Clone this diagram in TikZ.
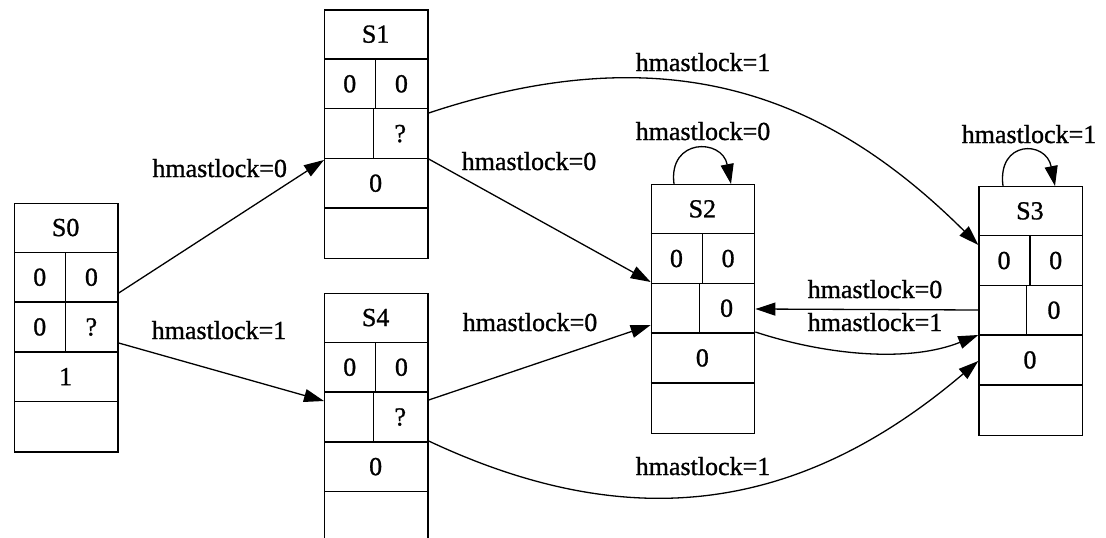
\documentclass[tikz,border=0pt]{standalone}
\usepackage{fontspec}
\setmainfont{Liberation Serif}
\newfontfamily\labelfont{Liberation Serif}[FakeBold=1]
\usetikzlibrary{arrows.meta,calc}

% record-shaped state: #1 name, #2 top-left corner "x,y", #3 offset of the row-3 divider,
% #4 title, #5/#6 row 2 cells, #7/#8 row 3 cells, #9 row 4
\newcommand{\staterec}[9]{%
  \begin{scope}[shift={(#2)}]
    \node[recbox, anchor=north west] (#1) at (0,0) {};
    \foreach \r in {49.7,99.4,149.1,198.8}
      \draw[cell] (0,\r) -- (103.3,\r);
    \draw[cell] (51.5,49.7) -- (51.5,99.4);
    \draw[cell] (#3,99.4) -- (#3,149.1);
    \node[txt] (#1t) at (51.65,33.35) {#4};
    \node[txt] (#1a) at (25.75,83.05) {#5};
    \node[txt] (#1b) at (77.4,83.05) {#6};
    \node[txt] (#1c) at ({#3/2},132.75) {#7};
    \node[txt] (#1d) at ({(#3+103.3)/2},132.75) {#8};
    \node[txt] (#1e) at (51.65,182.45) {#9};
  \end{scope}}

\begin{document}
\begin{tikzpicture}[x=1pt,y=-1pt,
  every node/.style={font=\labelfont\fontsize{26}{30}\selectfont},
  recbox/.style={draw, rectangle, line width=1.4pt, minimum width=103.3pt,
    minimum height=248.5pt, inner sep=0pt},
  cell/.style={line width=1.4pt},
  txt/.style={anchor=base, inner sep=0pt},
  lab/.style={anchor=base, inner sep=0pt},
  edge/.style={line width=1.3pt, -{Triangle[length=20pt,width=13pt]}}]

\useasboundingbox (0,0) rectangle (1106,538);
\clip (0,0) rectangle (1106,538);

% states
\staterec{S0}{14,202.7}{51.5}{S0}{0}{0}{0}{?}{1}
\staterec{S1}{324,9.3}{49.3}{S1}{0}{0}{}{?}{0}
\staterec{S4}{324,292.7}{49.3}{S4}{0}{0}{}{?}{0}
\staterec{S2}{650.7,184}{48.5}{S2}{0}{0}{}{0}{0}
\staterec{S3}{978.3,186}{48}{S3}{0}{0}{}{0}{0}

% transitions
\draw[edge] ($(S0.north east)+(0,90.3)$) -- ($(S1.north west)+(0,150.7)$);
\draw[edge] ($(S0.north east)+(0,140.3)$) -- ($(S4.north west)+(0,108.3)$);
\draw[edge] ($(S1.north east)+(0,149.7)$) -- ($(S2.north west)+(0,98)$);
\draw[edge] ($(S4.north east)+(0,107.3)$) -- ($(S2.north west)+(0,141)$);
\draw[edge] ($(S1.north east)+(0,103.7)$)
  .. controls +(250,-83) and +(-143,-142) .. ($(S3.north west)+(0,59)$);
\draw[edge] ($(S4.north east)+(0,148.3)$)
  .. controls +(200,94) and +(-180,153) .. ($(S3.north west)+(0,175)$);
\draw[edge] ($(S3.north west)+(0,124)$) -- ($(S2.north east)+(0,125)$);
\draw[edge] ($(S2.north east)+(0,148)$)
  .. controls +(70,23) and +(-70,28) .. ($(S3.north west)+(0,149)$);
\draw[edge] ($(S2.north west)+(23.3,0)$)
  .. controls +(-6,-46) and +(-9,-46) .. ($(S2.north west)+(80.3,0)$);
\draw[edge] ($(S3.north west)+(24.7,0)$)
  .. controls +(-6,-46) and +(-9,-46) .. ($(S3.north west)+(76.7,0)$);

% transition labels
\node[lab] (l01) at (219.7,177) {hmastlock=0};
\node[lab] (l04) at (219,339) {hmastlock=1};
\node[lab] (l12) at (529,170) {hmastlock=0};
\node[lab] (l42) at (530,331) {hmastlock=0};
\node[lab] (l13) at (703,71) {hmastlock=1};
\node[lab] (l43) at (703,475) {hmastlock=1};
\node[lab] (l22) at (703,140) {hmastlock=0};
\node[lab] (l33) at (1029,143) {hmastlock=1};
\node[lab] (l32) at (875,298) {hmastlock=0};
\node[lab] (l23) at (875,331) {hmastlock=1};

\end{tikzpicture}
\end{document}
